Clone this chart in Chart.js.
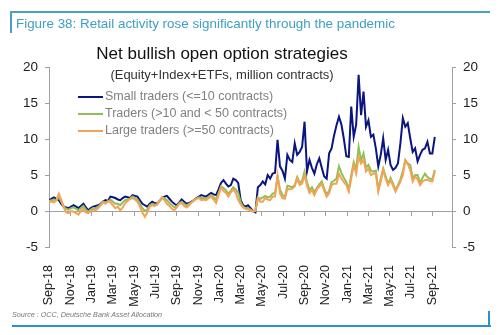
<!DOCTYPE html>
<html>
<head>
<meta charset="utf-8">
<script src="https://cdn.jsdelivr.net/npm/chart.js@4/dist/chart.umd.min.js"></script>
<style>
body{margin:0;width:500px;height:335px;background:#fff;position:relative;overflow:hidden;font-family:"Liberation Sans",Arial,sans-serif}
#wrap{position:absolute;left:0;top:0;width:500px;height:335px}
.abs{position:absolute;white-space:nowrap}
</style>
</head>
<body>
<div id="wrap"><canvas id="c" width="500" height="335"></canvas></div>
<div class="abs" style="left:10px;top:11px;width:480px;height:2px;background:#4aa0c8"></div>
<div class="abs" style="left:10px;top:11px;width:2px;height:22px;background:#4aa0c8"></div>
<div class="abs" style="left:16px;top:16px;font-size:13.4px;color:#3f9fc2">Figure 38: Retail activity rose significantly through the pandemic</div>
<div class="abs" style="left:0;width:444px;top:44px;text-align:center;font-size:17px;color:#111">Net bullish open option strategies</div>
<div class="abs" style="left:0;width:444px;top:67px;text-align:center;font-size:13px;color:#333">(Equity+Index+ETFs, million contracts)</div>
<div class="abs" style="left:12px;top:310px;font-size:7.2px;font-style:italic;color:#777">Source : OCC, Deutsche Bank Asset Allocation</div>
<div class="abs" style="left:12px;top:325px;width:479px;height:2px;background:#2e8fd0"></div>
<div class="abs" style="left:488px;top:311px;width:2px;height:16px;background:#2e8fd0"></div>
<script>
// weekly values, Sep-18 .. Sep-21 (million contracts)
var tickLabels=["Sep-18","Nov-18","Jan-19","Mar-19","May-19","Jul-19","Sep-19","Nov-19","Jan-20","Mar-20",
  "May-20","Jul-20","Sep-20","Nov-20","Jan-21","Mar-21","May-21","Jul-21","Sep-21"];
var seriesNames=["Small traders (<=10 contracts)","Traders (>10 and < 50 contracts)","Large traders (>=50 contracts)"];
var small=[1.5,1.7,1.9,1.7,1.5,1.0,0.6,0.5,0.4,0.6,
  0.8,0.6,0.4,0.7,1.0,0.5,0.1,0.4,0.6,0.7,
  0.8,1.0,1.3,1.5,1.4,2.0,1.9,1.8,1.6,1.5,
  1.8,2.0,1.9,1.8,2.2,2.1,2.0,1.5,1.0,0.8,
  0.6,1.0,1.3,1.1,1.0,1.4,1.8,2.0,2.1,1.7,
  1.3,1.0,0.8,1.2,1.6,1.3,1.0,1.1,1.3,1.5,
  1.8,2.0,2.2,2.1,2.0,2.3,2.5,2.3,2.2,3.0,
  3.9,4.3,3.8,3.4,3.6,4.5,4.3,3.9,1.5,0.8,
  0.6,0.8,0.4,0.0,-0.2,3.3,3.6,4.1,3.7,5.0,
  4.5,5.2,5.3,9.9,6.2,5.6,4.5,7.8,7.1,6.8,
  9.4,7.8,8.2,8.9,12.4,5.5,7.1,6.0,5.2,6.5,
  7.3,6.0,4.8,4.5,8.0,8.7,10.5,11.9,13.1,12.0,
  10.0,7.6,7.5,14.5,10.3,12.0,18.9,13.3,16.6,11.7,
  12.6,10.3,10.6,8.7,6.2,7.8,10.1,7.1,8.5,6.4,
  5.7,6.0,6.6,9.4,12.9,11.7,12.2,10.1,8.2,8.7,
  6.9,7.8,8.5,8.7,9.6,8.0,8.0,10.3];
var mid=[1.4,1.5,1.6,1.5,1.9,1.3,0.6,0.3,0.2,0.4,
  0.5,0.3,0.1,0.4,0.7,0.2,-0.1,0.2,0.4,0.4,
  0.6,0.9,1.3,1.2,1.3,1.6,1.3,1.0,1.0,0.8,
  1.2,1.5,1.6,1.7,2.0,1.8,1.6,1.0,0.4,0.0,
  0.2,0.8,1.0,0.9,0.9,1.4,1.9,1.8,1.5,1.1,
  0.8,0.5,0.6,1.1,1.3,1.0,0.8,1.0,1.2,1.5,
  1.7,1.9,1.8,1.8,1.7,2.0,2.2,1.9,1.6,2.5,
  3.4,3.2,2.9,2.4,2.8,3.3,3.0,2.5,1.2,0.6,
  0.4,0.4,0.2,0.0,0.0,1.9,1.7,1.9,2.1,1.9,
  2.0,2.4,2.5,4.8,3.0,2.2,2.0,3.5,3.4,3.3,
  3.6,4.7,3.9,4.2,5.5,4.0,2.9,3.3,2.6,3.2,
  3.7,4.1,3.1,2.3,2.8,4.0,4.2,4.5,6.2,5.3,
  4.6,4.0,3.0,5.0,6.8,5.8,8.9,7.0,8.0,6.0,
  6.4,5.6,5.5,5.6,3.0,4.5,5.9,4.8,3.8,4.6,
  3.8,2.9,3.6,4.4,5.5,7.1,6.6,6.4,4.6,5.0,
  5.0,3.9,4.6,5.2,4.7,4.5,4.4,5.7];
var large=[1.2,1.3,1.2,1.5,2.4,1.5,0.5,-0.2,-0.3,0.0,
  -0.1,-0.3,-0.5,0.0,0.3,-0.2,-0.3,0.0,0.2,0.1,
  0.4,0.8,1.2,1.0,1.4,1.2,0.8,0.4,0.6,0.1,
  0.5,1.1,1.4,1.7,1.8,1.6,1.3,0.6,-0.2,-0.8,
  -0.2,0.6,0.8,0.7,0.9,1.4,1.9,1.5,1.0,0.7,
  0.3,0.1,0.5,1.0,1.1,0.7,0.5,0.8,1.2,1.5,
  1.7,1.8,1.5,1.6,1.5,1.8,2.0,1.6,1.1,2.2,
  3.3,2.8,2.5,2.0,2.6,3.0,2.5,1.5,0.9,0.5,
  0.3,0.2,0.1,-0.1,0.0,1.8,1.3,1.3,1.8,1.6,
  1.5,2.0,2.0,4.9,2.5,1.8,1.7,3.1,3.0,3.1,
  3.4,4.5,3.6,3.8,5.0,3.5,2.5,2.9,2.2,3.0,
  3.4,3.8,2.8,2.0,2.5,3.6,3.8,3.8,5.2,4.5,
  4.0,3.6,2.7,4.5,6.4,5.2,7.5,6.6,7.1,5.5,
  5.9,5.0,5.2,5.2,2.7,4.1,5.7,4.5,3.6,4.3,
  3.5,2.7,3.4,4.1,5.0,7.0,6.5,5.7,4.1,4.8,
  4.4,3.6,4.1,4.3,4.3,4.2,4.1,5.5];
var yTicks=[-5,0,5,10,15,20];

function pts(arr){
  return arr.map(function(v,i){return {x:i,y:v};});
}
function monthTicks(axis){
  axis.ticks=tickLabels.map(function(t,i){return {value:i*2*52/12};});
}

var legendBox={
  id:"legendBox",
  afterDatasetsDraw:function(chart){
    var ctx=chart.ctx;
    ctx.save();
    ctx.font="12.5px 'Liberation Sans', Arial, sans-serif";
    ctx.textBaseline="middle";
    chart.data.datasets.forEach(function(ds,i){
      var y=97+i*17;
      ctx.strokeStyle=ds.borderColor;
      ctx.lineWidth=2;
      ctx.beginPath();ctx.moveTo(78,y);ctx.lineTo(103,y);ctx.stroke();
      ctx.fillStyle="#808080";
      ctx.fillText(ds.label,105,y);
    });
    ctx.restore();
  }
};

Chart.defaults.font.family="'Liberation Sans', Arial, sans-serif";
Chart.defaults.font.size=13;
Chart.defaults.color="#222";

var ctx=document.getElementById("c").getContext("2d");
var myChart=new Chart(ctx,{
  type:"line",
  data:{
    datasets:[
      {label:seriesNames[0],data:pts(small),borderColor:"#0b1580",borderWidth:2,pointRadius:0,order:3},
      {label:seriesNames[1],data:pts(mid),borderColor:"#8fbf55",borderWidth:2,pointRadius:0,order:2},
      {label:seriesNames[2],data:pts(large),borderColor:"#f4a257",borderWidth:2,pointRadius:0,order:1}
    ]
  },
  options:{
    responsive:false,
    animation:false,
    layout:{padding:{top:67,left:0,right:0,bottom:0}},
    plugins:{legend:{display:false},tooltip:{enabled:false}},
    scales:{
      x:{
        type:"linear",min:0,max:164,position:"bottom",
        afterBuildTicks:monthTicks,
        afterFit:function(s){s.height=88;},
        grid:{display:false},
        border:{display:false},
        ticks:{autoSkip:false,maxRotation:90,minRotation:90,padding:10,font:{size:12.5},
          callback:function(v,i){return tickLabels[i];}}
      },
      x2:{
        type:"linear",min:0,max:164,position:{y:0},axis:"x",
        afterBuildTicks:monthTicks,
        grid:{drawOnChartArea:false,drawTicks:true,tickLength:4,color:"#a0a0a0"},
        border:{display:true,color:"#a0a0a0",width:1},
        ticks:{display:false}
      },
      y:{
        min:-5,max:20,position:"left",
        afterBuildTicks:function(a){a.ticks=yTicks.map(function(v){return {value:v};});},
        afterFit:function(s){s.width=49;},
        grid:{drawOnChartArea:false,tickLength:4,color:"#a0a0a0"},
        border:{color:"#a0a0a0"},
        ticks:{padding:7,font:{size:13.5}}
      },
      y2:{
        min:-5,max:20,position:"right",
        afterBuildTicks:function(a){a.ticks=yTicks.map(function(v){return {value:v};});},
        afterFit:function(s){s.width=48;},
        grid:{drawOnChartArea:false,tickLength:4,color:"#a0a0a0"},
        border:{color:"#a0a0a0"},
        ticks:{padding:7,font:{size:13.5}}
      }
    }
  },
  plugins:[legendBox]
});
</script>
</body>
</html>
